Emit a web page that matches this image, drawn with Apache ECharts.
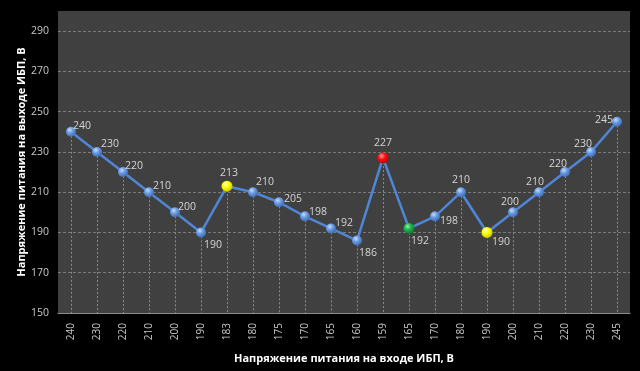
<!DOCTYPE html>
<html><head><meta charset="utf-8">
<script src="https://cdn.jsdelivr.net/npm/echarts@6/dist/echarts.min.js"></script>
<style>html,body{margin:0;padding:0;background:#000}#c{width:640px;height:371px}</style>
</head><body><div id="c"></div>
<script>
// ---- data ----
const categories = ['240','230','220','210','200','190','183','180','175','170','165','160','159','165','170','180','190','200','210','220','230','245'];
const outputVoltage = [240,230,220,210,200,190,213,210,205,198,192,186,227,192,198,210,190,200,210,220,230,245];
const yTicks = [150,170,190,210,230,250,270,290];
const xTitle = 'Напряжение питания на входе ИБП, В';
const yTitle = 'Напряжение питания на выходе ИБП, В';

// ---- styling (not data) ----
const yMin = 150, yMax = 300;
const markerKind = ['b','b','b','b','b','b','y','b','b','b','b','b','r','g','b','b','y','b','b','b','b','b'];
const labelOffsets = [[11,-6],[13,-8],[11,-6],[13,-6],[12,-5],[12,13],[2,-13],[12,-10],[14,-3],[13,-4],[13,-5],[11,12],[0,-15],[11,13],[14,5],[0,-12],[14,10],[-3,-10],[-4,-10],[-7,-8],[-8,-8],[-13,-2]];
function sphere(light, mid, dark){
  return {type:'radial', x:0.38, y:0.32, r:0.7, colorStops:[
    {offset:0, color:light},{offset:0.45, color:mid},{offset:1, color:dark}]};
}
const markerStyles = {
  b: {fill: sphere('#c6dcfa','#6a9be0','#3a6bb8'), size: 10},
  y: {fill: sphere('#ffffd0','#ffff00','#c8c800'), size: 11},
  r: {fill: sphere('#ff9a9a','#ff1010','#c00000'), size: 11},
  g: {fill: sphere('#8ff0a8','#1fb04a','#0a7a2a'), size: 11}
};

const seriesData = outputVoltage.map((v,i)=>{
  const m = markerStyles[markerKind[i]];
  return {
    value: v,
    symbolSize: m.size,
    itemStyle: {color: m.fill, borderWidth: 0},
    label: {offset: labelOffsets[i]}
  };
});
const dropLines = outputVoltage.map((v,i)=>[{coord:[i, v]},{coord:[i, yMin]}]);

const chart = echarts.init(document.getElementById('c'), null, {renderer:'canvas'});
chart.setOption({
  backgroundColor:'#000000',
  animation:false,
  textStyle:{fontFamily:'Open Sans'},
  grid:{left:58, right:10, top:11, bottom:58, show:true, backgroundColor:'#404040', borderWidth:0},
  xAxis:{
    type:'category', data:categories, boundaryGap:true,
    axisLine:{show:true, lineStyle:{color:'#8c8c8c', width:1}},
    axisTick:{show:false},
    axisLabel:{rotate:90, color:'#c8c8c8', fontSize:10, margin:10, fontFamily:'Open Sans'},
    splitLine:{show:false},
    name:xTitle, nameLocation:'middle', nameGap:40, nameMoveOverlap:false,
    nameTextStyle:{color:'#ffffff', fontSize:11, fontWeight:'bold', fontFamily:'Open Sans'}
  },
  yAxis:{
    type:'value', min:yMin, max:yMax,
    axisLine:{show:false},
    axisTick:{show:false, customValues:yTicks},
    axisLabel:{customValues:yTicks, color:'#c8c8c8', fontSize:10.5, margin:9, fontFamily:'Open Sans'},
    splitLine:{show:true, lineStyle:{color:'#7a7a7a', type:[3,2], width:1}},
    name:yTitle, nameLocation:'middle', nameGap:31, nameRotate:90, nameMoveOverlap:false,
    nameTextStyle:{color:'#ffffff', fontSize:11, fontWeight:'bold', fontFamily:'Open Sans'}
  },
  series:[{
    type:'line', data:seriesData, symbol:'circle',
    lineStyle:{color:'#4f86d6', width:2.5},
    label:{show:true, position:'inside', color:'#d4d4d4', fontSize:10.5, fontFamily:'Open Sans'},
    markLine:{
      silent:true, symbol:['none','none'], label:{show:false},
      lineStyle:{color:'#8a8a8a', type:[2,2], width:1},
      data:dropLines, z:1
    },
    z:3
  }]
});
</script></body></html>
